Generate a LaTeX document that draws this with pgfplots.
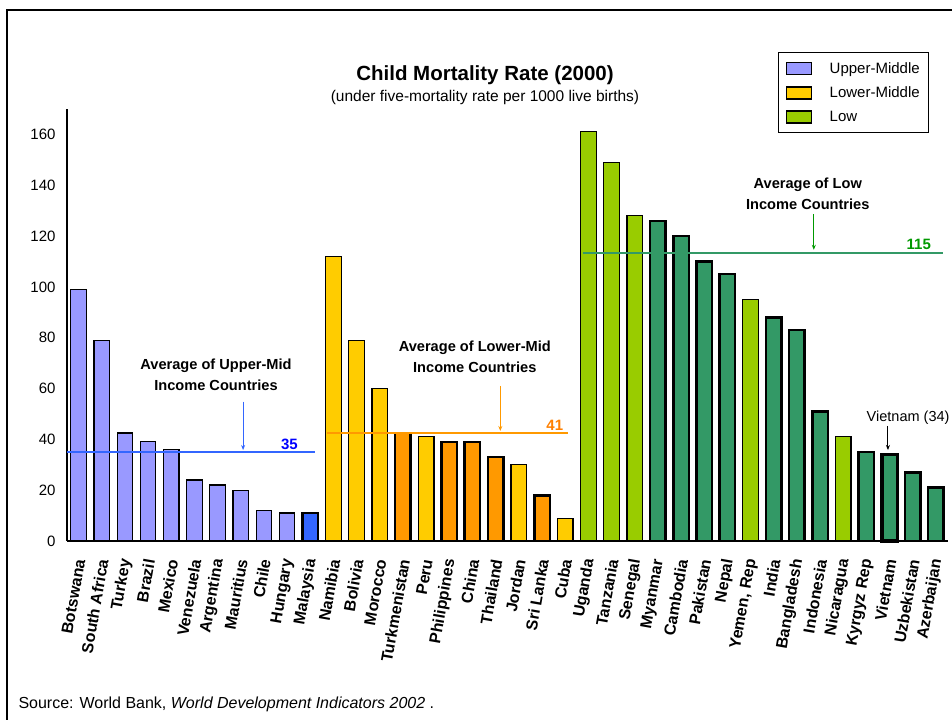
\documentclass[border=0pt]{standalone}
\usepackage{pgfplots}
\pgfplotsset{compat=1.18}
\usepackage{fontspec}
\setmainfont{Liberation Sans}
\usetikzlibrary{arrows.meta}

\definecolor{upmid}{HTML}{9999FF}
\definecolor{malay}{HTML}{3366FF}
\definecolor{lowmid}{HTML}{FFCC00}
\definecolor{lowmidor}{HTML}{FF9900}
\definecolor{lowlt}{HTML}{99CC00}
\definecolor{lowdk}{HTML}{339966}
\definecolor{avgblue}{HTML}{3366FF}
\definecolor{lblblue}{HTML}{0000FF}
\definecolor{avgor}{HTML}{FF9900}
\definecolor{lblor}{HTML}{FF8000}
\definecolor{avggreen}{HTML}{339966}
\definecolor{lblgreen}{HTML}{009900}

\begin{document}
\begin{tikzpicture}
\useasboundingbox (0,0) rectangle (952bp,720bp);
% frame (only left and top edges are visible in the original)
\draw[line width=2.5bp] (7bp,0) -- (7bp,710bp) -- (952bp,710bp);

\node[font=\bfseries\fontsize{20.5bp}{24bp}\selectfont] at (485bp,645bp) {Child Mortality Rate (2000)};
\node[font=\fontsize{15.5bp}{18bp}\selectfont] at (485bp,623bp) {(under five-mortality rate per 1000 live births)};
\node[anchor=base west, font=\fontsize{16bp}{19bp}\selectfont] at (15bp,11.7bp)
  {Source: World Bank, \textit{World Development Indicators 2002} .};

\begin{axis}[
    at={(67bp,179bp)}, anchor=south west,
    scale only axis,
    width=880.5bp, height=432bp,
    xmin=-0.5, xmax=37.5,
    ymin=0, ymax=170,
    axis x line*=bottom, axis y line*=left,
    axis line style={line width=2bp, black},
    major tick length=0pt,
    ytick={0,20,...,160},
    /pgf/number format/assume math mode=true,
    yticklabel style={font=\fontsize{15bp}{18bp}\selectfont, xshift=-8bp},
    xtick={0,...,37},
    xticklabels={Botswana, South Africa, Turkey, Brazil, Mexico, Venezuela, Argentina,
      Mauritius, Chile, Hungary, Malaysia, Namibia, Bolivia, Morocco, Turkmenistan, Peru,
      Philippines, China, Thailand, Jordan, Sri Lanka, Cuba, Uganda, Tanzania, Senegal,
      Myanmar, Cambodia, Pakistan, Nepal, {Yemen, Rep}, India, Bangladesh, Indonesia,
      Nicaragua, Kyrgyz Rep, Vietnam, Uzbekistan, Azerbaijan},
    xticklabel style={xshift=2bp, yshift=-15bp, rotate=80, anchor=east,
      font=\bfseries\fontsize{16bp}{18bp}\selectfont},
    bar width=15.5bp,
    clip=false,
    legend style={at={(0.8075,1.132)}, anchor=north west, draw=black, line width=1bp,
      inner xsep=7bp, inner ysep=8bp, row sep=8bp, cells={anchor=west},
      font=\fontsize{15bp}{17bp}\selectfont,
      /tikz/every odd column/.append style={column sep=16bp}},
]
% Upper-middle income
\addplot[ybar, bar shift=0pt, fill=upmid, draw=black, line width=1.2bp,
  legend image code/.code={\draw[fill=upmid, draw=black, line width=1.2bp] (0bp,-6bp) rectangle (25bp,6bp);}]
  coordinates {(0,99) (1,79) (2,42.5) (3,39) (4,36) (5,24) (6,22) (7,20) (8,12) (9,11)};
\addlegendentry{Upper-Middle}
\addplot[ybar, bar shift=0pt, fill=malay, draw=black, line width=2.5bp, forget plot]
  coordinates {(10,11)};
% Lower-middle income
\addplot[ybar, bar shift=0pt, fill=lowmid, draw=black, line width=1.2bp,
  legend image code/.code={\draw[fill=lowmid, draw=black, line width=1.2bp] (0bp,-6bp) rectangle (25bp,6bp);}]
  coordinates {(11,112) (12,79) (13,60) (15,41) (19,30) (21,9)};
\addlegendentry{Lower-Middle}
\addplot[ybar, bar shift=0pt, fill=lowmidor, draw=black, line width=2.5bp, forget plot]
  coordinates {(14,42.5) (16,39) (17,39) (18,33) (20,18)};
% Low income
\addplot[ybar, bar shift=0pt, fill=lowlt, draw=black, line width=1.2bp,
  legend image code/.code={\draw[fill=lowlt, draw=black, line width=1.2bp] (0bp,-6bp) rectangle (25bp,6bp);}]
  coordinates {(22,161) (23,149) (24,128) (29,95) (33,41)};
\addlegendentry{Low}
\addplot[ybar, bar shift=0pt, fill=lowdk, draw=black, line width=2.5bp, forget plot]
  coordinates {(25,126) (26,120) (27,110) (28,105) (30,88) (31,83) (32,51) (34,35) (36,27) (37,21)};
\addplot[ybar, bar shift=0pt, fill=lowdk, draw=black, line width=3.5bp, forget plot]
  coordinates {(35,34)};

% group averages
\addplot[avgblue, line width=2.5bp, forget plot] coordinates {(-0.5,35) (10.2,35)};
\addplot[avgor, line width=2.5bp, forget plot] coordinates {(10.7,42.5) (21.1,42.5)};
\addplot[avggreen, line width=2.5bp, forget plot] coordinates {(21.75,113.3) (37.3,113.3)};

% annotations
\node[font=\bfseries\fontsize{14.6bp}{21bp}\selectfont, align=center] at (axis cs:5.93,65.4)
  {Average of Upper-Mid\\Income Countries};
\draw[avgblue, line width=1bp, -{Stealth[length=5bp,width=4bp]}] (axis cs:7.1,54.8) -- (axis cs:7.1,35.8);
\node[lblblue, font=\bfseries\fontsize{15bp}{18bp}\selectfont] at (axis cs:9.1,38) {35};

\node[font=\bfseries\fontsize{14.6bp}{21bp}\selectfont, align=center] at (axis cs:17.1,72.4)
  {Average of Lower-Mid\\Income Countries};
\draw[avgor, line width=1bp, -{Stealth[length=5bp,width=4bp]}] (axis cs:18.2,61) -- (axis cs:18.2,43.3);
\node[lblor, font=\bfseries\fontsize{15bp}{18bp}\selectfont] at (axis cs:20.55,45.7) {41};

\node[font=\bfseries\fontsize{14.6bp}{21bp}\selectfont, align=center] at (axis cs:31.47,136.5)
  {Average of Low\\Income Countries};
\draw[lblgreen, line width=1bp, -{Stealth[length=5bp,width=4bp]}] (axis cs:31.73,128.7) -- (axis cs:31.73,114.6);
\node[lblgreen, font=\bfseries\fontsize{15bp}{18bp}\selectfont] at (axis cs:36.26,116.9) {115};

\node[font=\fontsize{14.5bp}{17bp}\selectfont] at (axis cs:35.8,48.5) {Vietnam (34)};
\draw[black, line width=1bp, -{Stealth[length=5bp,width=4bp]}] (axis cs:34.93,45.3) -- (axis cs:34.93,35.8);
\end{axis}
\end{tikzpicture}
\end{document}
